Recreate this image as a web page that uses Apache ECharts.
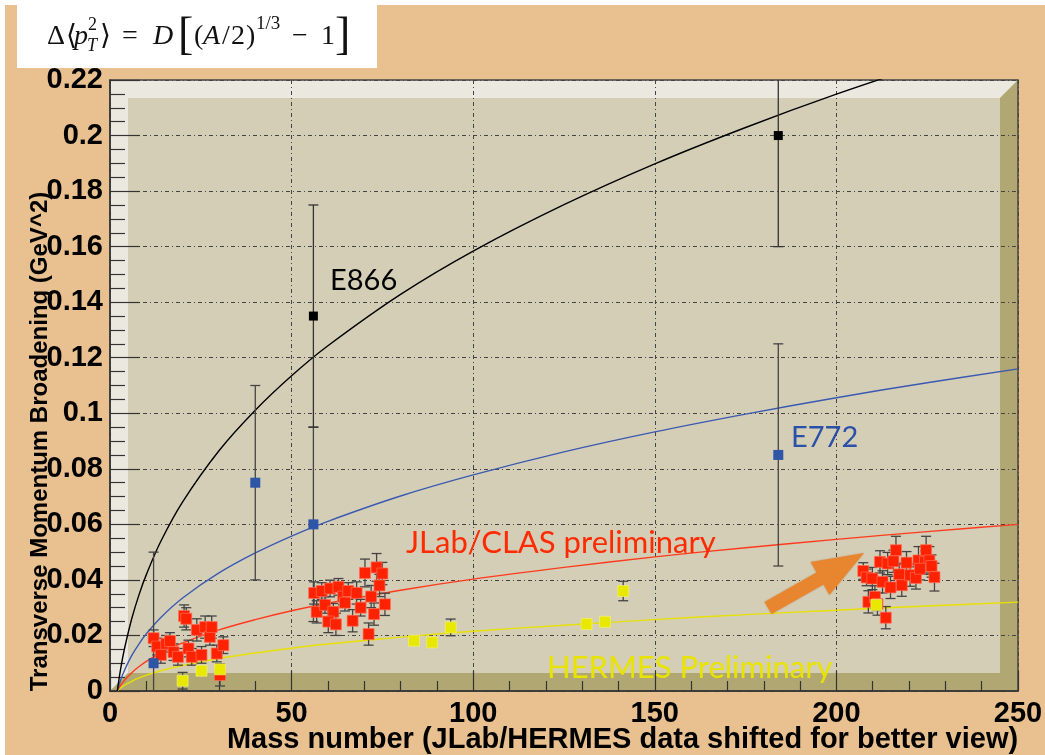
<!DOCTYPE html>
<html><head><meta charset="utf-8">
<script src="https://cdn.jsdelivr.net/npm/echarts@6/dist/echarts.min.js"></script>
<style>html,body{margin:0;padding:0;background:#fff}#c{width:1045px;height:755px}</style>
</head><body><div id="c"></div>
<script>
// ---- axis ticks ----
const xTicks = [0, 50, 100, 150, 200, 250];
const yTicks = [0, 0.02, 0.04, 0.06, 0.08, 0.1, 0.12, 0.14, 0.16, 0.18, 0.2, 0.22];

// ---- fit curves D[(A/2)^(1/3)-1] ----
const curveA     = [2, 3, 4, 6, 8, 10, 14, 20, 30, 40, 50, 60, 80, 100, 125, 150, 175, 200, 225, 250];
const curveE866  = [0, 0.0085, 0.0153, 0.0261, 0.0347, 0.0419, 0.0539, 0.0681, 0.0865, 0.1011, 0.1135, 0.1243, 0.1428, 0.1584, 0.1751, 0.1898, 0.2029, 0.2149, 0.2258, 0.236];
const curveE772  = [0, 0.0042, 0.0075, 0.0128, 0.0170, 0.0206, 0.0265, 0.0335, 0.0425, 0.0497, 0.0558, 0.0611, 0.0702, 0.0778, 0.0861, 0.0933, 0.0997, 0.1056, 0.1110, 0.116];
const curveJLab  = [0, 0.0022, 0.0039, 0.0066, 0.0088, 0.0107, 0.0137, 0.0173, 0.0220, 0.0257, 0.0289, 0.0316, 0.0363, 0.0403, 0.0445, 0.0483, 0.0516, 0.0546, 0.0574, 0.060];
const curveHERMES= [0, 0.0012, 0.0021, 0.0035, 0.0047, 0.0057, 0.0073, 0.0092, 0.0117, 0.0137, 0.0154, 0.0169, 0.0194, 0.0215, 0.0237, 0.0257, 0.0275, 0.0291, 0.0306, 0.032];

// ---- E866 ----
const e866A   = [56, 184];
const e866Y   = [0.135, 0.200];
const e866Err = [0.04, 0.04];

// ---- E772 ----
const e772A   = [12, 40, 56, 184];
const e772Y   = [0.010, 0.075, 0.060, 0.085];
const e772Err = [0.04, 0.035, 0.035, 0.04];

// ---- JLab/CLAS preliminary ----
const jlabA = [12, 13, 14, 15.5, 16.5, 17.5, 18.7, 20.4, 21, 21.6, 22.5, 23.9, 25.2, 26.2, 27.5, 28, 29.4, 30.3, 31.2,
  56.2, 58.3, 60.6, 62.9, 56.9, 59.2, 61.5, 60.1, 62.2, 64.2, 65.6, 64.7, 67.9, 66.8, 69, 70.2, 71.9, 72.7, 71.2, 73.4, 75, 74.2, 75.7,
  207.4, 208.3, 209.9, 208.8, 210.6, 211.3, 213.6, 212, 214.1, 215.7, 216.4, 212.7, 214.9, 217.3, 218, 219.3, 220.3, 221.9, 222.6, 224.7, 224.4, 225.6, 226.2, 227, 223];
const jlabY = [0.019, 0.016, 0.013, 0.017, 0.018, 0.014, 0.0123, 0.027, 0.026, 0.0153, 0.0123, 0.022, 0.013, 0.023, 0.0195, 0.023, 0.0135, 0.0058, 0.0165,
  0.0353, 0.036, 0.0369, 0.0375, 0.0285, 0.031, 0.0285, 0.025, 0.024, 0.034, 0.036, 0.0318, 0.0353, 0.0253, 0.030, 0.0425, 0.034, 0.0277, 0.0205, 0.0445, 0.0423, 0.038, 0.0312,
  0.0432, 0.0409, 0.0405, 0.0321, 0.0339, 0.0313, 0.0264, 0.0465, 0.0459, 0.0467, 0.0507, 0.0393, 0.0373, 0.042, 0.0381, 0.0462, 0.0417, 0.0407, 0.047, 0.0507, 0.0465, 0.047, 0.045, 0.041, 0.044];
const jlabErr = [0.003, 0.003, 0.003, 0.003, 0.003, 0.003, 0.003, 0.004, 0.004, 0.003, 0.003, 0.004, 0.003, 0.004, 0.003, 0.004, 0.003, 0.004, 0.003,
  0.004, 0.003, 0.003, 0.003, 0.004, 0.003, 0.003, 0.004, 0.004, 0.003, 0.003, 0.003, 0.004, 0.004, 0.003, 0.005, 0.004, 0.004, 0.004, 0.005, 0.004, 0.004, 0.004,
  0.003, 0.003, 0.004, 0.004, 0.004, 0.004, 0.004, 0.004, 0.004, 0.004, 0.005, 0.004, 0.004, 0.004, 0.004, 0.004, 0.004, 0.004, 0.005, 0.005, 0.004, 0.005, 0.004, 0.005, 0.004];

// ---- HERMES preliminary ----
const hermesA   = [20, 25.2, 30.3, 83.7, 88.7, 93.8, 131.2, 136.3, 141.3, 211];
const hermesY   = [0.0037, 0.0073, 0.0078, 0.0181, 0.0175, 0.0229, 0.0241, 0.0249, 0.036, 0.031];
const hermesErr = [0.003, 0.001, 0.001, 0.001, 0.001, 0.003, 0.001, 0.001, 0.0035, 0.002];

const G = {left: 110, top: 80, right: 1018, bottom: 691};
const BV = 18;

function pts(a, y) { return a.map((v, i) => [v, y[i]]); }
function errSeries(A, Y, E, color, z) {
  return {
    type: 'custom', z: z, clip: true, silent: true,
    data: A.map((a, i) => [a, Y[i], E[i]]),
    renderItem: function (params, api) {
      const x = api.value(0), y = api.value(1), e = api.value(2);
      if (!e) return null;
      const t = api.coord([x, y + e]), b = api.coord([x, y - e]);
      const w = 5, st = {stroke: color, lineWidth: 1.3};
      return {type: 'group', children: [
        {type: 'line', shape: {x1: t[0], y1: t[1], x2: b[0], y2: b[1]}, style: st},
        {type: 'line', shape: {x1: t[0] - w, y1: t[1], x2: t[0] + w, y2: t[1]}, style: st},
        {type: 'line', shape: {x1: b[0] - w, y1: b[1], x2: b[0] + w, y2: b[1]}, style: st}
      ]};
    }
  };
}
function curve(y, color) {
  return {type: 'line', data: pts(curveA, y), showSymbol: false, smooth: 0.35, clip: true, silent: true,
    lineStyle: {color: color, width: 1.4}, z: 3};
}

const serif = "'Liberation Serif','DejaVu Serif',serif";
// x = left edge, cy = vertical centre of the glyph line box
function ftext(t, x, cy, size, italic) {
  return {type: 'text', x: x, y: cy, z: 100,
    style: {text: t, fill: '#111', font: (italic ? 'italic ' : '') + size + 'px ' + serif, verticalAlign: 'middle', align: 'left'}};
}

const chart = echarts.init(document.getElementById('c'));
chart.setOption({
  animation: false,
  backgroundColor: '#ffffff',
  grid: {left: G.left, top: G.top, right: 1045 - G.right, bottom: 755 - G.bottom, containLabel: false, outerBoundsMode: 'none'},
  xAxis: {
    type: 'value', min: xTicks[0], max: xTicks[xTicks.length - 1], interval: xTicks[1] - xTicks[0],
    axisLine: {show: true, onZero: false, lineStyle: {color: '#333', width: 1.5}},
    axisTick: {show: true, inside: true, length: 20, lineStyle: {color: '#333', width: 1.2}},
    minorTick: {show: true, splitNumber: 5, length: 10, lineStyle: {color: '#333', width: 1.2}},
    splitLine: {show: true, lineStyle: {color: '#444', width: 1, type: [4, 3, 1, 3]}},
    axisLabel: {margin: 8, color: '#000', fontSize: 29, fontWeight: 'bold', fontFamily: "'Liberation Sans',Arial,sans-serif"},
    name: 'Mass number (JLab/HERMES data shifted for better view)',
    nameLocation: 'middle', nameGap: 34, nameMoveOverlap: false,
    nameTextStyle: {padding: [0, 0, 0, 117], color: '#000', fontSize: 29, fontWeight: 'bold', fontFamily: "'Liberation Sans',Arial,sans-serif"}
  },
  yAxis: {
    type: 'value', min: yTicks[0], max: yTicks[yTicks.length - 1], interval: yTicks[1] - yTicks[0],
    axisLine: {show: true, onZero: false, lineStyle: {color: '#333', width: 1.5}},
    axisTick: {show: true, inside: true, length: 30, lineStyle: {color: '#333', width: 1.2}},
    minorTick: {show: true, splitNumber: 4, length: 15, lineStyle: {color: '#333', width: 1.2}},
    splitLine: {show: true, lineStyle: {color: '#444', width: 1, type: [4, 3, 1, 3]}},
    axisLabel: {margin: 7, color: '#000', fontSize: 29, fontWeight: 'bold', fontFamily: "'Liberation Sans',Arial,sans-serif"},
    name: 'Transverse Momentum Broadening (GeV^2)',
    nameLocation: 'middle', nameGap: 58, nameRotate: 90, nameMoveOverlap: false,
    nameTextStyle: {color: '#000', fontSize: 24, fontWeight: 'bold', fontFamily: "'Liberation Sans',Arial,sans-serif", padding: [0, 112, 0, 0]}
  },
  graphic: [
    {type: 'rect', z: -20, shape: {x: 5, y: 5, width: 1040, height: 750}, style: {fill: '#e9c190'}},
    {type: 'rect', z: -19, shape: {x: 17, y: 0, width: 360, height: 68}, style: {fill: '#ffffff'}},
    {type: 'rect', z: -15, shape: {x: G.left, y: G.top, width: G.right - G.left, height: G.bottom - G.top}, style: {fill: '#d5ceb7'}},
    {type: 'polygon', z: -14, shape: {points: [[G.left, G.top], [G.right, G.top], [G.right - BV, G.top + BV], [G.left + BV, G.top + BV], [G.left + BV, G.bottom - BV], [G.left, G.bottom]]}, style: {fill: '#ebe9df'}},
    {type: 'polygon', z: -14, shape: {points: [[G.right, G.top], [G.right, G.bottom], [G.left, G.bottom], [G.left + BV, G.bottom - BV], [G.right - BV, G.bottom - BV], [G.right - BV, G.top + BV]]}, style: {fill: '#b1a772'}},
    {type: 'rect', z: -13, shape: {x: G.left, y: G.top, width: G.right - G.left, height: G.bottom - G.top}, style: {fill: null, stroke: '#444', lineWidth: 1.5}},
    // formula  Δ⟨p_T^2⟩ = D[(A/2)^{1/3} − 1]
    ftext('Δ', 47, 37, 28, false),
    ftext('⟨', 66, 37, 28, false),
    ftext('p', 74, 37, 28, true),
    ftext('2', 88, 25, 18, false),
    ftext('T', 87, 46, 18, true),
    ftext('⟩', 100, 37, 28, false),
    ftext('=', 122, 37, 28, false),
    ftext('D', 153, 37, 28, true),
    ftext('[', 178, 37, 46, false),
    ftext('(', 194, 37, 28, false),
    ftext('A', 203, 37, 28, true),
    ftext('/', 222, 37, 28, false),
    ftext('2', 231, 37, 28, false),
    ftext(')', 246, 37, 28, false),
    ftext('1/3', 256, 24, 19, false),
    ftext('−', 292, 37, 28, false),
    ftext('1', 321, 37, 28, false),
    ftext(']', 335, 37, 46, false),
    // annotations
    {type: 'text', x: 330, y: 281, z: 100, style: {text: 'E866', fill: '#000', font: "29px Lato, 'Open Sans', sans-serif", verticalAlign: 'middle'}},
    {type: 'text', x: 791, y: 438, z: 100, style: {text: 'E772', fill: '#2b50a8', font: "29px Lato, 'Open Sans', sans-serif", verticalAlign: 'middle'}},
    {type: 'text', x: 406, y: 543, z: 100, style: {text: 'JLab/CLAS preliminary', fill: '#ff2a00', font: "31px Lato, 'Open Sans', sans-serif", verticalAlign: 'middle'}},
    {type: 'text', x: 547, y: 668, z: 100, style: {text: 'HERMES Preliminary', fill: '#e8e400', font: "31px Lato, 'Open Sans', sans-serif", verticalAlign: 'middle'}},
    {type: 'polygon', z: 90, shape: {points: [[764.5, 601.9], [816.5, 572.4], [810.6, 562], [864, 553], [829.4, 595], [823.5, 584.6], [771.5, 614.1]]},
      style: {fill: '#e8862f', shadowBlur: 2, shadowColor: 'rgba(160,80,20,0.4)'}}
  ],
  series: [
    curve(curveHERMES, '#e8e000'),
    curve(curveJLab, '#ff3a1c'),
    curve(curveE772, '#3a5ab2'),
    curve(curveE866, '#000000'),
    errSeries(hermesA, hermesY, hermesErr, '#444', 4),
    errSeries(jlabA, jlabY, jlabErr, '#444', 4),
    errSeries(e772A, e772Y, e772Err, '#444', 4),
    errSeries(e866A, e866Y, e866Err, '#333', 4),
    {type: 'scatter', data: pts(jlabA, jlabY), symbol: 'rect', symbolSize: 11, z: 6, silent: true,
      itemStyle: {color: '#ff2200', borderColor: 'rgba(255,110,90,0.7)', borderWidth: 1, opacity: 1}},
    {type: 'scatter', data: pts(hermesA, hermesY), symbol: 'rect', symbolSize: 11, z: 7, silent: true,
      itemStyle: {color: '#e8e800', borderColor: 'rgba(240,240,120,0.7)', borderWidth: 1, opacity: 1}},
    {type: 'scatter', data: pts(e772A, e772Y), symbol: 'rect', symbolSize: 10, z: 7, silent: true,
      itemStyle: {color: '#2e55a6', opacity: 1}},
    {type: 'scatter', data: pts(e866A, e866Y), symbol: 'rect', symbolSize: 9, z: 7, silent: true,
      itemStyle: {color: '#000000', opacity: 1}}
  ]
});
</script>
</body></html>
